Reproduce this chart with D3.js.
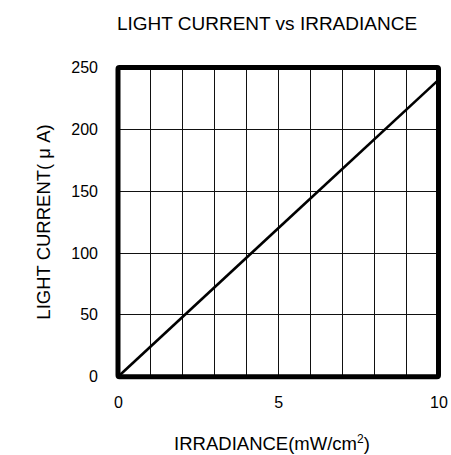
<!DOCTYPE html>
<html>
<head>
<meta charset="utf-8">
<script src="https://cdn.jsdelivr.net/npm/d3@7/dist/d3.min.js"></script>
<style>
  html, body { margin: 0; padding: 0; background: #fff; }
  svg { display: block; }
  text { font-family: "Liberation Sans", Arial, sans-serif; fill: #000; }
</style>
</head>
<body>
<svg id="chart" width="451" height="455"></svg>
<script>
// Data
const irradiance = [0, 5, 10];          // mW/cm^2
const lightCurrent = [0, 120, 240];     // µA
const xTicks = [0, 5, 10];
const yTicks = [0, 50, 100, 150, 200, 250];
const xGrid = [1, 2, 3, 4, 5, 6, 7, 8, 9];
const yGrid = [50, 100, 150, 200];

const svg = d3.select("#chart");
const pLeft = 118, pRight = 438.5, pTop = 67.5, pBottom = 376.7;

const x = d3.scaleLinear().domain([0, 10]).range([pLeft, pRight]);
const y = d3.scaleLinear().domain([0, 250]).range([pBottom, pTop]);

// Grid
svg.append("g").selectAll("line").data(xGrid).join("line")
  .attr("x1", d => x(d)).attr("x2", d => x(d))
  .attr("y1", pTop).attr("y2", pBottom)
  .attr("stroke", "#111").attr("stroke-width", 1).attr("shape-rendering", "crispEdges");
svg.append("g").selectAll("line").data(yGrid).join("line")
  .attr("x1", pLeft).attr("x2", pRight)
  .attr("y1", d => y(d)).attr("y2", d => y(d))
  .attr("stroke", "#111").attr("stroke-width", 1).attr("shape-rendering", "crispEdges");

// Data line
const line = d3.line().x((d, i) => x(irradiance[i])).y(d => y(d));
svg.append("path").datum(lightCurrent)
  .attr("d", line)
  .attr("fill", "none").attr("stroke", "#000").attr("stroke-width", 2.6);

// Frame
svg.append("rect")
  .attr("x", pLeft).attr("y", pTop)
  .attr("width", pRight - pLeft).attr("height", pBottom - pTop)
  .attr("fill", "none").attr("stroke", "#000").attr("stroke-width", 5)
  .attr("rx", 1.5);

// Axes (labels only)
const xAxis = d3.axisBottom(x).tickValues(xTicks).tickSize(0).tickPadding(20).tickFormat(d3.format("d"));
const gx = svg.append("g").attr("transform", `translate(0,${pBottom})`).call(xAxis);
gx.select(".domain").remove();
gx.selectAll("text").attr("font-size", 16).attr("font-family", "Liberation Sans, Arial, sans-serif");

const yAxis = d3.axisLeft(y).tickValues(yTicks).tickSize(0).tickPadding(20).tickFormat(d3.format("d"));
const gy = svg.append("g").attr("transform", `translate(${pLeft},0)`).call(yAxis);
gy.select(".domain").remove();
gy.selectAll("text").attr("font-size", 16).attr("font-family", "Liberation Sans, Arial, sans-serif");

// Title
svg.append("text").attr("x", 267).attr("y", 30)
  .attr("text-anchor", "middle").attr("font-size", 19)
  .text("LIGHT CURRENT vs IRRADIANCE");

// X label
const xl = svg.append("text").attr("x", 272).attr("y", 450)
  .attr("text-anchor", "middle").attr("font-size", 18.5);
xl.append("tspan").text("IRRADIANCE(mW/cm");
xl.append("tspan").attr("font-size", 12).attr("dy", -7).text("2");
xl.append("tspan").attr("dy", 7).text(")");

// Y label
svg.append("text").attr("transform", "translate(50,222) rotate(-90)")
  .attr("text-anchor", "middle").attr("font-size", 18.5)
  .text("LIGHT CURRENT( μ A)");
</script>
</body>
</html>
